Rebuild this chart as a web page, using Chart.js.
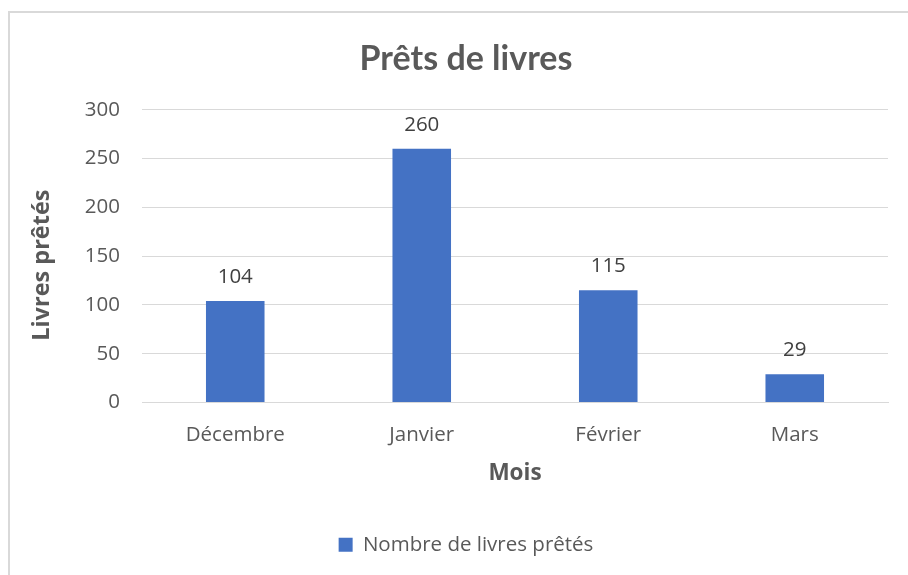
<!DOCTYPE html>
<html><head><meta charset="utf-8">
<script src="https://cdn.jsdelivr.net/npm/chart.js@4/dist/chart.umd.min.js"></script>
<style>
html,body{margin:0;padding:0;background:#fff;overflow:hidden;}
#frame{position:absolute;left:8px;top:11px;width:1000px;height:1000px;border:2px solid #d9d9d9;box-sizing:border-box;}
#wrap{position:absolute;left:0;top:0;width:908px;height:575px;}
</style></head>
<body>
<div id="frame"></div>
<div id="wrap"><canvas id="c" width="908" height="575"></canvas></div>
<script>
const categories = ["Décembre", "Janvier", "Février", "Mars"];
const seriesName = "Nombre de livres prêtés";
const values = [104, 260, 115, 29];
const yTicks = [0, 50, 100, 150, 200, 250, 300];
const yAxisTitle = "Livres prêtés";
const xAxisTitle = "Mois";
const chartTitle = "Prêts de livres";

const textColor = "#595959";
const fontFam = "'Open Sans', sans-serif";

const extraText = {
  id: 'extraText',
  afterDatasetsDraw(chart) {
    const ctx = chart.ctx;
    const meta = chart.getDatasetMeta(0);
    ctx.save();
    ctx.font = "20.5px " + fontFam;
    ctx.fillStyle = "#404040";
    ctx.textAlign = "center";
    ctx.textBaseline = "middle";
    meta.data.forEach((bar, i) => {
      ctx.fillText(String(values[i]), bar.x, bar.y - 24);
    });
    // y axis title
    const ys = chart.scales.y;
    ctx.translate(ys.left - 2, (ys.top + ys.bottom) / 2 + 9);
    ctx.rotate(-Math.PI / 2);
    ctx.font = "bold 23.5px " + fontFam;
    ctx.fillStyle = textColor;
    ctx.fillText(yAxisTitle, 0, 0);
    ctx.restore();
  }
};

new Chart(document.getElementById('c'), {
  type: 'bar',
  data: {
    labels: categories,
    datasets: [{
      label: seriesName,
      data: values,
      backgroundColor: '#4472C4',
      borderWidth: 0,
      barPercentage: 0.314,
      categoryPercentage: 1.0
    }]
  },
  options: {
    responsive: false,
    animation: false,
    layout: { padding: { left: 44, right: 20, top: 0, bottom: 10 } },
    plugins: {
      title: {
        display: true,
        text: chartTitle,
        color: textColor,
        font: { family: "Lato, sans-serif", size: 34, weight: 'bold' },
        padding: { top: 39, bottom: 30 }
      },
      legend: {
        position: 'bottom',
        labels: {
          color: textColor,
          font: { family: fontFam, size: 20.5 },
          boxWidth: 14, boxHeight: 14,
          padding: 10
        }
      },
      tooltip: { enabled: false }
    },
    scales: {
      x: {
        grid: { display: false, drawTicks: false },
        border: { display: true, color: '#d9d9d9', width: 1 },
        ticks: { color: textColor, font: { family: fontFam, size: 20.5 }, padding: 20 },
        title: { display: true, text: xAxisTitle, color: textColor, font: { family: fontFam, size: 22.5, weight: 'bold' }, padding: { top: 8, bottom: 37 } },
        afterFit(scale) { scale.height = 122; }
      },
      y: {
        min: 0, max: 300,
        afterBuildTicks(scale) { scale.ticks = yTicks.map(v => ({ value: v })); },
        grid: { color: '#d9d9d9', drawTicks: false },
        border: { display: false },
        ticks: { color: textColor, font: { family: fontFam, size: 20.5 }, padding: 22 },
        title: { display: false },
        afterFit(scale) { scale.width = 98; }
      }
    }
  },
  plugins: [extraText]
});
</script>
</body></html>
